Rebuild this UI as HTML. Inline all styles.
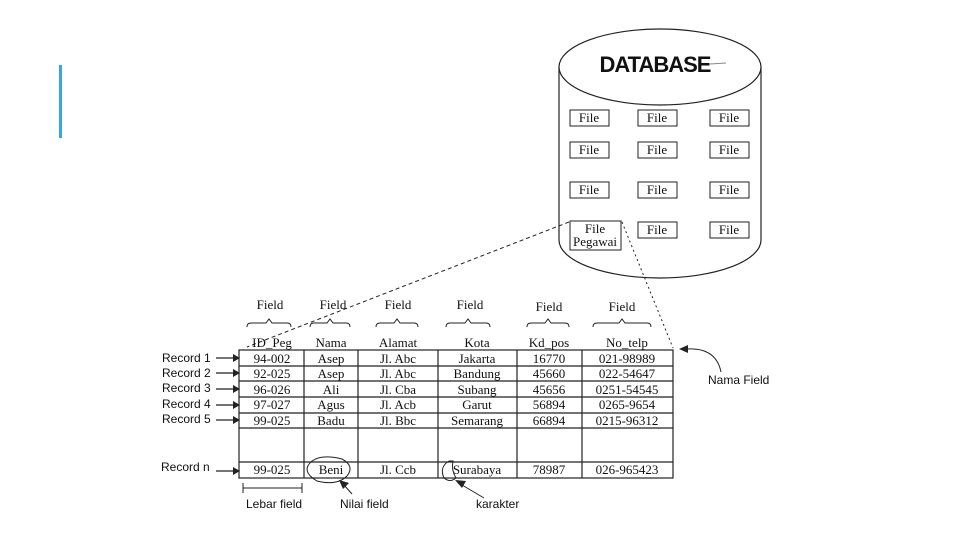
<!DOCTYPE html>
<html><head><style>
body{margin:0;background:#fff;}
svg text{font-family:"Liberation Serif",serif;font-size:13px;fill:#111;}
.s{font-family:"Liberation Sans",sans-serif!important;font-size:12px!important;}
</style></head><body>
<svg width="960" height="540" viewBox="0 0 960 540" xmlns="http://www.w3.org/2000/svg">
<rect x="59" y="65" width="3" height="73" fill="#35a8dc"/>
<path d="M559,67 L559,240 A101,38 0 0 0 761,240 L761,67" fill="#fff" stroke="#222" stroke-width="1.2"/>
<ellipse cx="660" cy="67" rx="101" ry="38" fill="#fff" stroke="#222" stroke-width="1.2"/>
<text x="655" y="72" text-anchor="middle" style="font-family:'Liberation Sans',sans-serif;font-size:22px;font-weight:bold;letter-spacing:-1px">DATABASE</text>
<line x1="710" y1="64" x2="726" y2="63" stroke="#888" stroke-width="1"/>
<g fill="#fff" stroke="#222" stroke-width="1">
<rect x="570" y="110" width="39" height="16"/><rect x="638" y="110" width="39" height="16"/><rect x="710" y="110" width="39" height="16"/>
<rect x="570" y="142" width="39" height="16"/><rect x="638" y="142" width="39" height="16"/><rect x="710" y="142" width="39" height="16"/>
<rect x="570" y="182" width="39" height="16"/><rect x="638" y="182" width="39" height="16"/><rect x="710" y="182" width="39" height="16"/>
<rect x="570" y="221" width="51" height="29"/><rect x="638" y="222" width="39" height="16"/><rect x="710" y="222" width="39" height="16"/>
</g>
<g text-anchor="middle" style="font-size:12px">
<text x="589" y="122">File</text><text x="657" y="122">File</text><text x="729" y="122">File</text>
<text x="589" y="154">File</text><text x="657" y="154">File</text><text x="729" y="154">File</text>
<text x="589" y="194">File</text><text x="657" y="194">File</text><text x="729" y="194">File</text>
<text x="595" y="233">File</text><text x="595" y="246">Pegawai</text>
<text x="657" y="234">File</text><text x="729" y="234">File</text>
</g>
<line x1="569" y1="222" x2="247" y2="347" stroke="#222" stroke-dasharray="4,3"/>
<line x1="622" y1="222" x2="673" y2="348" stroke="#222" stroke-dasharray="2,3"/>
<g text-anchor="middle">
<text x="270" y="309">Field</text><text x="333" y="309">Field</text><text x="398" y="309">Field</text><text x="470" y="309">Field</text><text x="549" y="311">Field</text><text x="622" y="311">Field</text>
</g>
<g fill="none" stroke="#222" stroke-width="1">
<path d="M247,327 q0,-4 4,-4 h15 l3,-4 l3,4 h15 q4,0 4,4"/>
<path d="M310,327 q0,-4 4,-4 h13 l3,-4 l3,4 h13 q4,0 4,4"/>
<path d="M376,327 q0,-4 4,-4 h14 l3,-4 l3,4 h14 q4,0 4,4"/>
<path d="M446,327 q0,-4 4,-4 h15 l3,-4 l3,4 h15 q4,0 4,4"/>
<path d="M527,327 q0,-4 4,-4 h14 l3,-4 l3,4 h14 q4,0 4,4"/>
<path d="M593,327 q0,-4 4,-4 h22 l3,-4 l3,4 h22 q4,0 4,4"/>
</g>
<g text-anchor="middle">
<text x="272" y="347">ID_Peg</text><text x="331" y="347">Nama</text><text x="398" y="347">Alamat</text><text x="477" y="347">Kota</text><text x="549" y="347">Kd_pos</text><text x="627" y="347">No_telp</text>
</g>
<g stroke="#222" stroke-width="1.2" fill="none">
<rect x="239" y="350" width="434" height="128"/>
<line x1="304" y1="350" x2="304" y2="478"/><line x1="358" y1="350" x2="358" y2="478"/><line x1="438" y1="350" x2="438" y2="478"/><line x1="517" y1="350" x2="517" y2="478"/><line x1="582" y1="350" x2="582" y2="478"/>
<line x1="239" y1="366" x2="673" y2="366"/><line x1="239" y1="381" x2="673" y2="381"/><line x1="239" y1="397" x2="673" y2="397"/><line x1="239" y1="413" x2="673" y2="413"/><line x1="239" y1="428" x2="673" y2="428"/><line x1="239" y1="462" x2="673" y2="462"/>
</g>
<g text-anchor="middle">
<text x="272" y="363">94-002</text><text x="331" y="363">Asep</text><text x="398" y="363">Jl. Abc</text><text x="477" y="363">Jakarta</text><text x="549" y="363">16770</text><text x="627" y="363">021-98989</text>
<text x="272" y="378">92-025</text><text x="331" y="378">Asep</text><text x="398" y="378">Jl. Abc</text><text x="477" y="378">Bandung</text><text x="549" y="378">45660</text><text x="627" y="378">022-54647</text>
<text x="272" y="394">96-026</text><text x="331" y="394">Ali</text><text x="398" y="394">Jl. Cba</text><text x="477" y="394">Subang</text><text x="549" y="394">45656</text><text x="627" y="394">0251-54545</text>
<text x="272" y="409">97-027</text><text x="331" y="409">Agus</text><text x="398" y="409">Jl. Acb</text><text x="477" y="409">Garut</text><text x="549" y="409">56894</text><text x="627" y="409">0265-9654</text>
<text x="272" y="425">99-025</text><text x="331" y="425">Badu</text><text x="398" y="425">Jl. Bbc</text><text x="477" y="425">Semarang</text><text x="549" y="425">66894</text><text x="627" y="425">0215-96312</text>
<text x="272" y="474">99-025</text><text x="331" y="474">Beni</text><text x="398" y="474">Jl. Ccb</text><text x="477" y="474">Surabaya</text><text x="549" y="474">78987</text><text x="627" y="474">026-965423</text>
</g>
<text class="s" x="162" y="362">Record 1</text><text class="s" x="162" y="377">Record 2</text><text class="s" x="162" y="392">Record 3</text><text class="s" x="162" y="408">Record 4</text><text class="s" x="162" y="423">Record 5</text><text class="s" x="161" y="471">Record n</text>
<g stroke="#222" stroke-width="1.2">
<line x1="216" y1="358" x2="236" y2="358"/><line x1="216" y1="373" x2="236" y2="373"/><line x1="216" y1="389" x2="236" y2="389"/><line x1="216" y1="405" x2="236" y2="405"/><line x1="216" y1="420" x2="236" y2="420"/><line x1="216" y1="471" x2="236" y2="471"/>
</g>
<g fill="#222">
<path d="M240,358 l-7,-4 v8z"/><path d="M240,373 l-7,-4 v8z"/><path d="M240,389 l-7,-4 v8z"/><path d="M240,405 l-7,-4 v8z"/><path d="M240,420 l-7,-4 v8z"/><path d="M240,471 l-7,-4 v8z"/>
</g>
<g stroke="#222" fill="none" stroke-width="1">
<path d="M243,488 h59 M243,483 v10 M302,483 v10"/>
<path d="M312,461 q-12,10 5,20 q20,5 30,-5 q8,-10 -5,-17 q-20,-5 -30,2z"/>
<path d="M449,461 q-10,6 -5,17 q6,5 12,0 q-5,-8 -3,-17z"/>
<line x1="352" y1="494" x2="344" y2="485"/>
<line x1="484" y1="498" x2="462" y2="485"/>
<path d="M721,372 q-5,-25 -35,-23"/>
</g>
<g fill="#222">
<path d="M339,480 l10,3 l-6,6z"/>
<path d="M455,480 l11,1 l-4,7z"/>
<path d="M679,349 l9,-4 l0,8z"/>
</g>
<text class="s" x="246" y="508">Lebar field</text>
<text class="s" x="340" y="508">Nilai field</text>
<text class="s" x="476" y="508">karakter</text>
<text class="s" x="708" y="384">Nama Field</text>
</svg>
</body></html>
